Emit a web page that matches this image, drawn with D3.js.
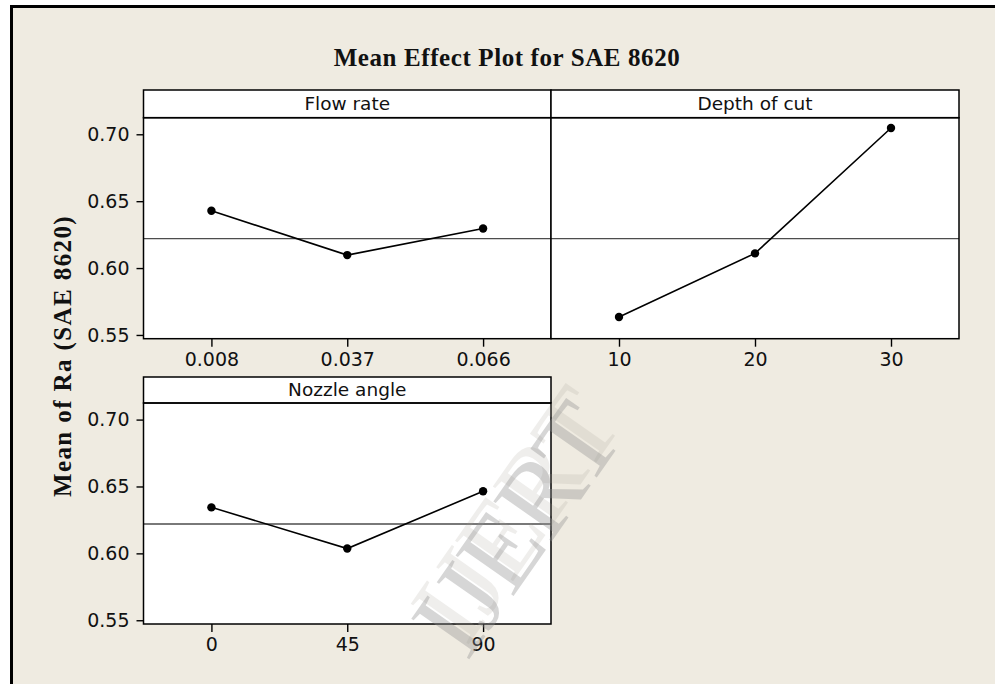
<!DOCTYPE html>
<html>
<head>
<meta charset="utf-8">
<script src="https://cdn.jsdelivr.net/npm/d3@7"></script>
<style>
  html, body { margin: 0; padding: 0; background: #ffffff; }
  svg { display: block; }
  .tick text { font-family: "DejaVu Sans", sans-serif; font-size: 19px; fill: #111; }
  .strip-label { font-family: "DejaVu Sans", sans-serif; font-size: 18.5px; fill: #111; }
  .title, .y-title { font-family: "Liberation Serif", "Times New Roman", serif; font-weight: bold; fill: #111; }
</style>
</head>
<body>
<div id="chart"></div>
<script>
// ---- data ----
const factors = ["Flow rate", "Depth of cut", "Nozzle angle"];
const flowRateLevels = ["0.008", "0.037", "0.066"];
const depthLevels = ["10", "20", "30"];
const nozzleLevels = ["0", "45", "90"];
const flowRateMeans = [0.6428, 0.6097, 0.6296];
const depthMeans = [0.5634, 0.6110, 0.7047];
const nozzleMeans = [0.6344, 0.6036, 0.6464];
const grandMean = 0.6220;
const yTicks = [0.55, 0.60, 0.65, 0.70];
const yDomain = [0.5472, 0.7124];

const width = 995, height = 684;

const svg = d3.select("#chart").append("svg")
  .attr("width", width)
  .attr("height", height);

// beige page with the heavy frame on top and left
svg.append("rect").attr("x", 12).attr("y", 8).attr("width", width - 12).attr("height", height - 8)
  .attr("fill", "#efebe1");
svg.append("path")
  .attr("d", `M11.5,${height} V6.5 H${width}`)
  .attr("fill", "none").attr("stroke", "#000").attr("stroke-width", 3);

svg.append("text").attr("class", "title")
  .attr("x", 507).attr("y", 66)
  .attr("text-anchor", "middle")
  .style("font-size", "25px").style("letter-spacing", "0.6px")
  .text("Mean Effect Plot for SAE 8620");

svg.append("text").attr("class", "y-title")
  .attr("transform", "translate(71,356) rotate(-90)")
  .attr("text-anchor", "middle")
  .style("font-size", "25px").style("letter-spacing", "1.4px")
  .text("Mean of Ra (SAE 8620)");

// panel layout
const cols = [{ x0: 143.5, x1: 551 }, { x0: 551, x1: 959 }];
const rows = [{ strip: 90, top: 117.7, bottom: 338.7 }, { strip: 377, top: 403, bottom: 624 }];

const panels = [
  { name: factors[0], levels: flowRateLevels, means: flowRateMeans, col: 0, row: 0, yAxis: true },
  { name: factors[1], levels: depthLevels, means: depthMeans, col: 1, row: 0, yAxis: false },
  { name: factors[2], levels: nozzleLevels, means: nozzleMeans, col: 0, row: 1, yAxis: true }
];

panels.forEach(p => {
  const c = cols[p.col], r = rows[p.row];
  const g = svg.append("g");

  const x = d3.scalePoint().domain(p.levels).range([c.x0, c.x1]).padding(0.5);
  const y = d3.scaleLinear().domain(yDomain).range([r.bottom, r.top]);

  g.append("rect")
    .attr("x", c.x0).attr("y", r.top).attr("width", c.x1 - c.x0).attr("height", r.bottom - r.top)
    .attr("fill", "#fff");

  // grand mean reference line
  g.append("line")
    .attr("x1", c.x0).attr("x2", c.x1)
    .attr("y1", y(grandMean)).attr("y2", y(grandMean))
    .attr("stroke", "#4d4d4d").attr("stroke-width", 1.4);

  const pts = p.levels.map((l, i) => [x(l), y(p.means[i])]);
  g.append("path")
    .attr("d", d3.line()(pts))
    .attr("fill", "none").attr("stroke", "#000").attr("stroke-width", 1.6);
  g.selectAll("circle").data(pts).enter().append("circle")
    .attr("cx", d => d[0]).attr("cy", d => d[1]).attr("r", 4.2)
    .attr("fill", "#000");

  // frame + strip
  g.append("rect")
    .attr("x", c.x0).attr("y", r.strip).attr("width", c.x1 - c.x0).attr("height", r.top - r.strip)
    .attr("fill", "#fff").attr("stroke", "#000").attr("stroke-width", 1.5);
  g.append("rect")
    .attr("x", c.x0).attr("y", r.top).attr("width", c.x1 - c.x0).attr("height", r.bottom - r.top)
    .attr("fill", "none").attr("stroke", "#000").attr("stroke-width", 1.5);
  g.append("text").attr("class", "strip-label")
    .attr("x", (c.x0 + c.x1) / 2).attr("y", r.top - 7.5)
    .attr("text-anchor", "middle")
    .text(p.name);

  const xAxis = g.append("g")
    .attr("transform", `translate(0,${r.bottom})`)
    .call(d3.axisBottom(x).tickSize(8).tickPadding(6).tickSizeOuter(0));
  xAxis.select(".domain").remove();
  xAxis.selectAll(".tick line").attr("stroke", "#000").attr("stroke-width", 1.4);

  if (p.yAxis) {
    const yAxis = g.append("g")
      .attr("transform", `translate(${c.x0},0)`)
      .call(d3.axisLeft(y).tickValues(yTicks).tickFormat(d3.format(".2f")).tickSize(7).tickPadding(7));
    yAxis.select(".domain").remove();
    yAxis.selectAll(".tick line").attr("stroke", "#000").attr("stroke-width", 1.4);
  }
});

// IJERT watermark
const wm = svg.append("g").attr("transform", "translate(515,528) rotate(-55)")
  .style("font-family", "Liberation Serif, serif").style("font-size", "108px");
wm.append("text").attr("x", 12).attr("y", -9).attr("dy", "0.35em")
  .attr("text-anchor", "middle").attr("fill", "#a8a398").attr("opacity", 0.18)
  .text("IJERT");
wm.append("text").attr("dy", "0.35em")
  .attr("text-anchor", "middle").attr("fill", "#909090").attr("opacity", 0.36)
  .text("IJERT");
</script>
</body>
</html>
